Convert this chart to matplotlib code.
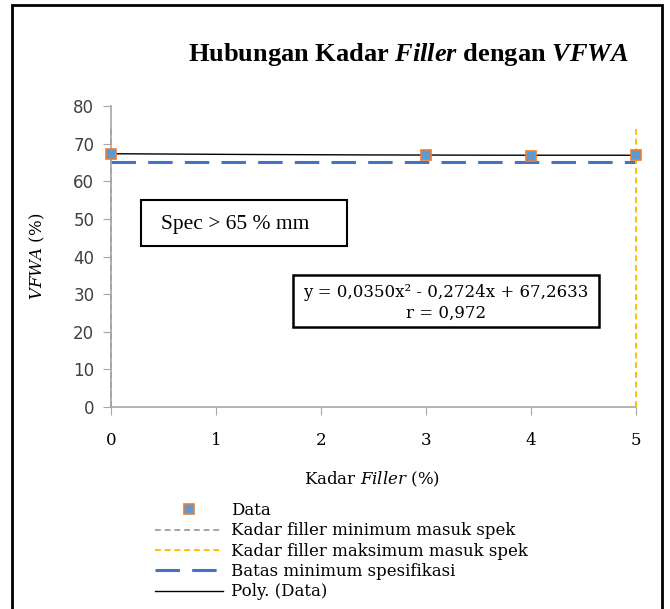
import numpy as np
import matplotlib
matplotlib.use("Agg")
import matplotlib.pyplot as plt
from matplotlib.patches import Rectangle

# ── data ─────────────────────────────────────
filler = [0, 3, 4, 5]                 # kadar filler (%)
vfwa = [67.3, 67.1, 66.7, 67.0]       # VFWA (%)
spec_min = 65                         # batas minimum spesifikasi
filler_min, filler_max = 0, 5         # kadar filler masuk spek
vline_top = 75                        # tinggi garis vertikal

x_ticks = [0, 1, 2, 3, 4, 5]
y_ticks = [0, 10, 20, 30, 40, 50, 60, 70, 80]
legend_labels = ["Data",
                 "Kadar filler minimum masuk spek",
                 "Kadar filler maksimum masuk spek",
                 "Batas minimum spesifikasi",
                 "Poly. (Data)"]

W, H = 670, 609
plt.rcParams["mathtext.fontset"] = "custom"
plt.rcParams["mathtext.rm"] = "Liberation Serif:bold"
plt.rcParams["mathtext.it"] = "Liberation Serif:italic:bold"
plt.rcParams["mathtext.bf"] = "Liberation Serif:bold"


def px(x, y):
    return x / W, 1 - y / H


fig = plt.figure(figsize=(W / 100, H / 100), dpi=100)
ax = fig.add_axes([111 / W, 1 - 407 / H, 525 / W, 301 / H])

# garis vertikal batas kadar filler (di atas spine, tidak di-clip)
l_min, = ax.plot([filler_min, filler_min], [0, vline_top], color="#A5A5A5",
                 lw=1.4, ls=(0, (3, 2)), clip_on=False, zorder=4)
l_max, = ax.plot([filler_max, filler_max], [0, vline_top], color="#FFC000",
                 lw=1.4, ls=(0, (3, 2)), clip_on=False, zorder=4)
# batas minimum spesifikasi
l_spec, = ax.plot([filler_min, filler_max], [spec_min, spec_min], color="#4472C4",
                  lw=2.2, ls=(0, (8, 4)))
# trendline polinomial orde 2
coef = np.polyfit(filler, vfwa, 2)
xs = np.linspace(filler_min, filler_max, 200)
l_poly, = ax.plot(xs, np.polyval(coef, xs), color="black", lw=1.0)
pts, = ax.plot(filler, vfwa, ls="none", marker="s", ms=7, mfc="#5B9BD5",
               mec="#ED7D31", mew=1.2, zorder=5, clip_on=False)

ax.set_xlim(0, 5)
ax.set_ylim(0, 80)
ax.set_xticks(x_ticks)
ax.set_yticks(y_ticks)
ax.set_xticklabels([str(t) for t in x_ticks], family="DejaVu Serif", fontsize=12)
ax.set_yticklabels([str(t) for t in y_ticks], family="DejaVu Sans", fontsize=12,
                   color="#404040")
for s in ["top", "right"]:
    ax.spines[s].set_visible(False)
for s in ["left", "bottom"]:
    ax.spines[s].set_color("#A6A6A6")
    ax.spines[s].set_linewidth(1.2)
ax.tick_params(axis="y", direction="out", length=6, color="#A6A6A6", pad=6)
ax.tick_params(axis="x", direction="out", length=6, color="#A6A6A6", pad=12)

ax.set_xlabel(r"Kadar $\mathit{Filler}$ (%)", family="DejaVu Serif", fontsize=12,
              math_fontfamily="dejavuserif")
ax.xaxis.set_label_coords(0.497, -0.209)
ax.set_ylabel(r"$\mathit{VFWA}$ (%)", family="DejaVu Serif", fontsize=12,
              math_fontfamily="dejavuserif")
ax.yaxis.set_label_coords(-0.122, 0.5)

# judul
fig.text(*px(408, 55), r"Hubungan Kadar $\mathit{Filler}$ dengan $\mathit{VFWA}$",
         family="Liberation Serif", weight="bold", fontsize=19,
         ha="center", va="center", math_fontfamily="custom")

# kotak Spec
x0, y0 = px(141, 246)
x1, y1 = px(347, 200)
fig.add_artist(Rectangle((x0, y0), x1 - x0, y1 - y0, transform=fig.transFigure,
                         fill=False, ec="black", lw=1.5))
fig.text(*px(161, 224), "Spec > 65 % mm", family="Liberation Serif", fontsize=15.5,
         ha="left", va="center")

# kotak persamaan
x0, y0 = px(293, 327)
x1, y1 = px(599, 275)
fig.add_artist(Rectangle((x0, y0), x1 - x0, y1 - y0, transform=fig.transFigure,
                         fill=False, ec="black", lw=1.8))
fig.text(*px(446, 292), "y = 0,0350x² - 0,2724x + 67,2633", family="DejaVu Serif",
         fontsize=12, ha="center", va="center")
fig.text(*px(446, 313), "r = 0,972", family="DejaVu Serif",
         fontsize=12, ha="center", va="center")

# legenda
fig.legend([pts, l_min, l_max, l_spec, l_poly], legend_labels,
           loc="upper left", bbox_to_anchor=px(155, 502), frameon=False,
           prop={"family": "DejaVu Serif", "size": 12}, handlelength=4.1,
           handletextpad=0.45, labelspacing=0.2, borderpad=0, borderaxespad=0)

# bingkai luar
x0, y0 = px(12, 640)
x1, y1 = px(662, 5)
fig.add_artist(Rectangle((x0, y0), x1 - x0, y1 - y0, transform=fig.transFigure,
                         fill=False, ec="black", lw=2, clip_on=False))

fig.savefig("out.png", dpi=100)
